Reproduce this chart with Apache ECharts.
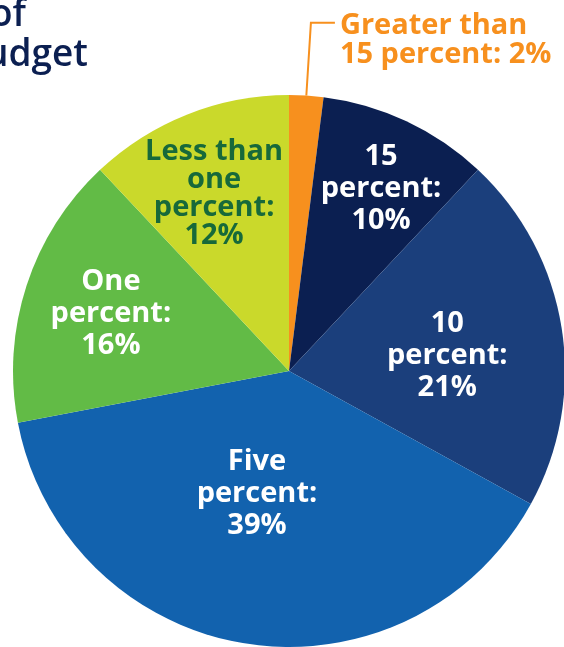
<!DOCTYPE html>
<html>
<head>
<meta charset="utf-8">
<script src="https://cdn.jsdelivr.net/npm/echarts@6/dist/echarts.min.js"></script>
<style>
  html, body { margin: 0; padding: 0; background: #fff; }
  #chart { width: 564px; height: 647px; }
</style>
</head>
<body>
<div id="chart"></div>
<script>
// data
var categories = ['Greater than 15 percent', '15 percent', '10 percent', 'Five percent', 'One percent', 'Less than one percent'];
var shares = [2, 10, 21, 39, 16, 12];
var labelNames = ['Greater than\n15 percent', '15\npercent', '10\npercent', 'Five\npercent', 'One\npercent', 'Less than\none\npercent'];

// styles
var sliceColors = ['#f7901e', '#0b1f51', '#1b3f7c', '#1262ae', '#62bb46', '#cad92b'];
var labelColors = ['#f7901e', '#ffffff', '#ffffff', '#ffffff', '#ffffff', '#17693a'];
var labelOffsets = [[0, 18], [32, -55], [19, 7], [-10, -17], [-44, -14], [-23, -46]];
var labelLineHeights = [29, 32, 32, 32, 32, 28];
var fontFam = '"Open Sans", Lato, sans-serif';

var chart = echarts.init(document.getElementById('chart'), null, { renderer: 'canvas' });

var pieData = categories.map(function (c, i) {
    var item = {
        name: c,
        value: shares[i],
        itemStyle: { color: sliceColors[i] },
        label: {
            color: labelColors[i],
            lineHeight: labelLineHeights[i],
            offset: labelOffsets[i]
        }
    };
    if (i === 0) {
        item.label.position = 'outside';
        item.label.align = 'left';
        item.labelLine = {
            show: true,
            length: 73,
            length2: 24,
            smooth: false,
            lineStyle: { color: sliceColors[0], width: 2 }
        };
    }
    return item;
});

var option = {
    backgroundColor: '#ffffff',
    animation: false,
    graphic: [
        {
            type: 'text', right: 538, top: -3,
            style: { text: 'Percent of', fill: '#0b1f51', font: '600 37px ' + fontFam, textAlign: 'right' }
        },
        {
            type: 'text', right: 476, top: 37,
            style: { text: 'annual budget', fill: '#0b1f51', font: '600 37px ' + fontFam, textAlign: 'right' }
        }
    ],
    series: [{
        type: 'pie',
        center: [289, 371],
        radius: [0, 276],
        startAngle: 90,
        clockwise: true,
        avoidLabelOverlap: false,
        itemStyle: { borderWidth: 0 },
        emphasis: { disabled: true },
        label: {
            show: true,
            position: 'inside',
            fontFamily: fontFam,
            fontSize: 29,
            fontWeight: 'bold',
            align: 'center',
            formatter: function (p) {
                var sep = p.dataIndex === 0 ? ' ' : '\n';
                return labelNames[p.dataIndex] + ':' + sep + shares[p.dataIndex] + '%';
            }
        },
        labelLine: { show: false },
        data: pieData
    }]
};
chart.setOption(option);
</script>
</body>
</html>
